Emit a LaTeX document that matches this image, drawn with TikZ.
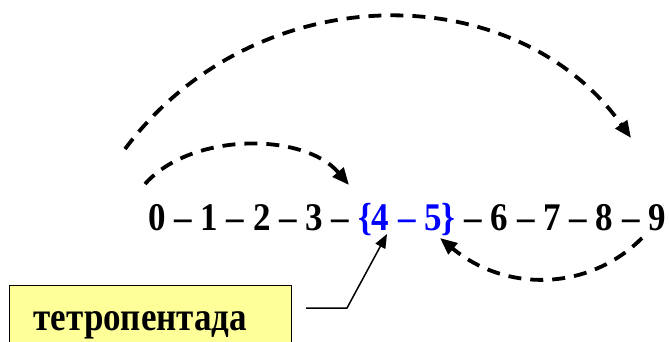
\documentclass[tikz,border=0pt]{standalone}
\usepackage{fontspec}
\setmainfont{Liberation Serif}
\usetikzlibrary{arrows.meta}
\definecolor{notebox}{HTML}{FFFF99}
\tikzset{
  jump/.style={line width=3.8pt, dash pattern=on 13pt off 9pt,
    -{Triangle[length=17pt,width=14pt]}},
  pointer/.style={line width=1.5pt, line join=miter,
    -{Triangle[length=14pt,width=11pt]}},
  notenode/.style={draw=black, line width=1.4pt, fill=notebox,
    anchor=north west, inner xsep=24pt, inner ysep=0pt,
    text width=234pt, text height=45pt, text depth=40pt,
    font=\fontsize{35}{40}\selectfont\bfseries, align=left},
  rownode/.style={inner sep=0pt, anchor=base west,
    font=\fontsize{35}{40}\selectfont\bfseries}
}

\begin{document}
\begin{tikzpicture}[x=1pt, y=-1pt, line cap=butt]

  \useasboundingbox (0,0) rectangle (669,341);

  % the digit row
  \node[rownode] (row) at (148,230)
    {\scalebox{1}[1.12]{0 – 1 – 2 – 3 – \textcolor{blue}{\{4 – 5\}} – 6 – 7 – 8 – 9}};

  % note box
  \node[notenode] (note) at (9,285) {\scalebox{1}[1.15]{тетропентада}};

  % arc ends
  \coordinate (LA) at (125,149);
  \coordinate (LB) at (631,138);
  \coordinate (SA) at (145,184);
  \coordinate (SB) at (349,185);
  \coordinate (BA) at (642,238);
  \coordinate (BB) at (440,238);
  \coordinate (PA) at (306,308);
  \coordinate (PK) at (347,308);
  \coordinate (PB) at (387,234);

  % dashed jumps
  \draw[jump] (LA) .. controls (255,-25) and (515,-25) .. (LB);
  \draw[jump] (SA) .. controls (191,132) and (304,132) .. (SB);
  \draw[jump] (BA) .. controls (588,292) and (505,292) .. (BB);

  % pointer from the note
  \draw[pointer] (PA) -- (PK) -- (PB);

\end{tikzpicture}
\end{document}
